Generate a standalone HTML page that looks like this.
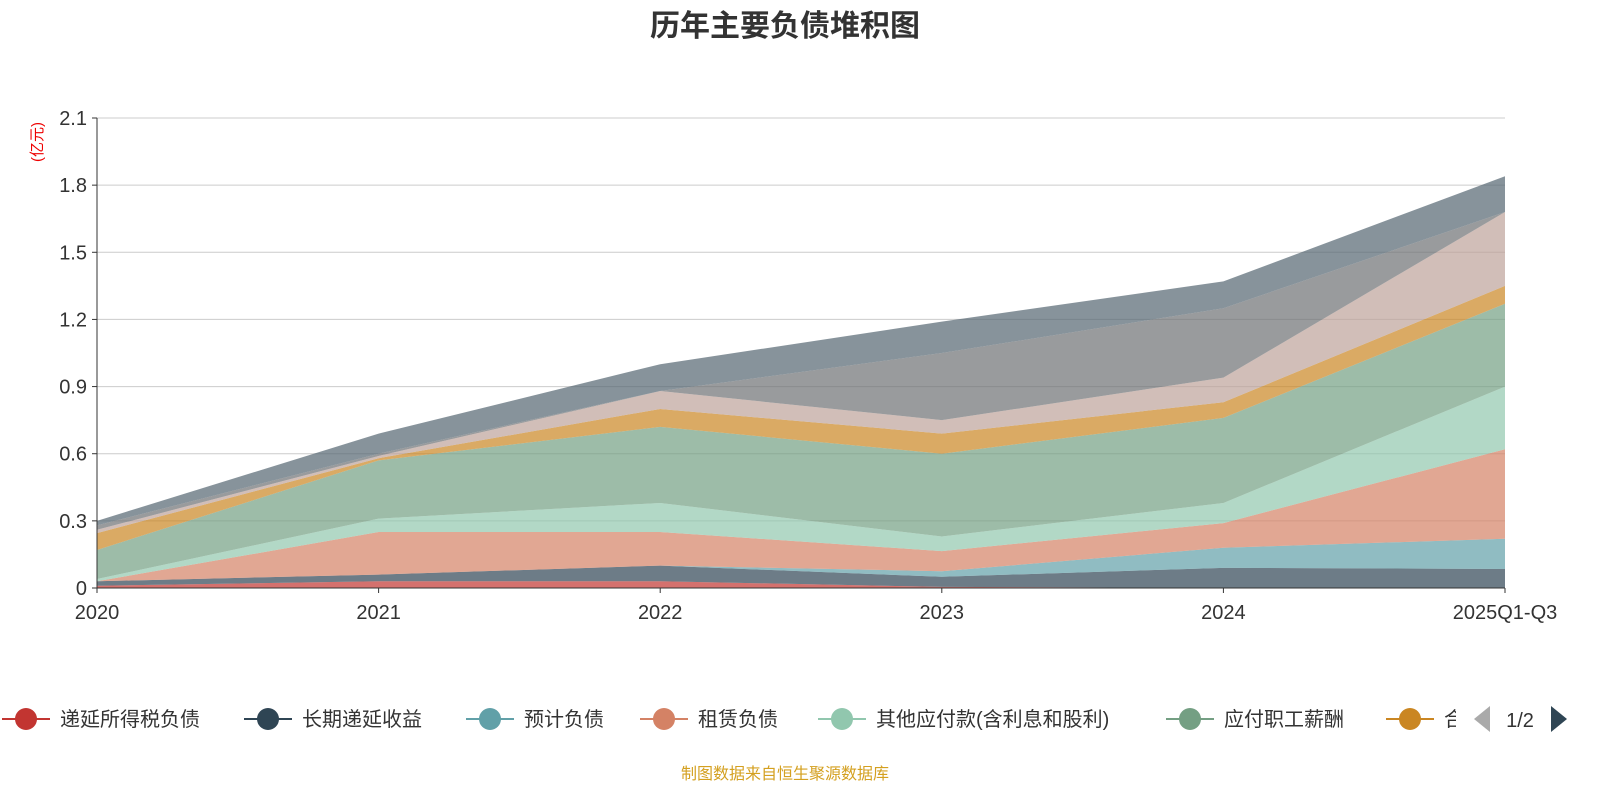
<!DOCTYPE html>
<html><head><meta charset="utf-8"><style>
body{margin:0;background:#fff;width:1600px;height:800px;overflow:hidden;font-family:"Liberation Sans","Noto Sans CJK SC",sans-serif}
</style></head><body>
<svg id="c" width="1600" height="800" xmlns="http://www.w3.org/2000/svg">
<text x="785" y="36" text-anchor="middle" font-size="30" font-weight="bold" fill="#333" font-family="Liberation Sans,Noto Sans CJK SC,sans-serif">历年主要负债堆积图</text>
<text transform="translate(42,142) rotate(-90)" text-anchor="middle" font-size="15" fill="#e00" font-family="Liberation Sans,Noto Sans CJK SC,sans-serif">(亿元)</text>
<g id="grid"></g><g id="areas"></g><g id="axes"></g><g id="legend"></g>
<text x="785" y="779" text-anchor="middle" font-size="16" fill="#d4a020" font-family="Liberation Sans,Noto Sans CJK SC,sans-serif">制图数据来自恒生聚源数据库</text>
</svg>
<script>
const categories=["2020","2021","2022","2023","2024","2025Q1-Q3"];
const yTicks=[0,0.3,0.6,0.9,1.2,1.5,1.8,2.1];
const seriesNames=["递延所得税负债","长期递延收益","预计负债","租赁负债","其他应付款(含利息和股利)","应付职工薪酬","合同负债","应交税费","应付账款","应付票据"];
const s1=[0.01,0.03,0.03,0.005,0,0];
const s2=[0.02,0.03,0.07,0.045,0.09,0.085];
const s3=[0,0,0,0.025,0.09,0.135];
const s4=[0,0.19,0.15,0.09,0.11,0.40];
const s5=[0.01,0.06,0.13,0.065,0.09,0.28];
const s6=[0.13,0.26,0.34,0.37,0.38,0.37];
const s7=[0.075,0.01,0.08,0.09,0.07,0.08];
const s8=[0.015,0.01,0.08,0.06,0.11,0.33];
const s9=[0.02,0.01,0,0.30,0.31,0];
const s10=[0.02,0.09,0.12,0.14,0.12,0.16];
const series=[s1,s2,s3,s4,s5,s6,s7,s8,s9,s10];
const colors=["#c23531","#2f4554","#61a0a8","#d48265","#91c7ae","#749f83","#ca8622","#bda29a","#6e7074","#546570"];
const NS="http://www.w3.org/2000/svg";
const X0=97,X1=1505,Y0=588,Y1=118,YMAX=2.1;
const xs=i=>X0+(X1-X0)*i/(categories.length-1);
const ys=v=>Y0-(Y0-Y1)*v/YMAX;
function mk(t,a,p){const e=document.createElementNS(NS,t);for(const k in a)e.setAttribute(k,a[k]);p.appendChild(e);return e;}
const grid=document.getElementById('grid'),areas=document.getElementById('areas'),axes=document.getElementById('axes'),leg=document.getElementById('legend');
yTicks.forEach(v=>{
 if(v>0){const l=mk('line',{x1:X0,x2:X1,y1:ys(v),y2:ys(v),stroke:'#ccc'},grid);
 
 }
 const t=mk('text',{x:X0-10,y:ys(v)+7,'text-anchor':'end','font-size':20,fill:'#333'},axes);t.textContent=v===0?'0':v.toFixed(1);
 
 
 mk('line',{x1:X0-5,x2:X0,y1:ys(v),y2:ys(v),stroke:'#333'},axes);
});
let base=categories.map(()=>0);
series.forEach((s,k)=>{
 const top=base.map((b,i)=>b+s[i]);
 let d='M'+top.map((v,i)=>xs(i)+','+ys(v)).join(' L');
 for(let i=categories.length-1;i>=0;i--)d+=' L'+xs(i)+','+ys(base[i]);
 const p=mk('path',{d:d+'Z',fill:colors[k],'fill-opacity':0.7,stroke:'none'},areas);
 
 
 base=top;
});
mk('line',{x1:X0,x2:X0,y1:Y1,y2:Y0,stroke:'#333'},axes);
mk('line',{x1:X0,x2:X1,y1:Y0,y2:Y0,stroke:'#333'},axes);
categories.forEach((c,i)=>{
 mk('line',{x1:xs(i),x2:xs(i),y1:Y0,y2:Y0+5,stroke:'#333'},axes);
 const t=mk('text',{x:xs(i),y:Y0+31,'text-anchor':'middle','font-size':20,fill:'#333'},axes);t.textContent=c;
 
 
});
const lx=[26,268,490,664,842,1190,1410];
lx.forEach((cx,k)=>{
 const g=mk('g',{},leg);
 
 
 mk('line',{x1:cx-24,x2:cx+24,y1:719,y2:719,stroke:colors[k],'stroke-width':2},g);
 mk('circle',{cx:cx,cy:719,r:11,fill:colors[k]},g);
 const t=mk('text',{x:cx+34,y:726,'font-size':20,fill:'#333'},g);t.textContent=seriesNames[k];
 if(k===6){const cp=mk('clipPath',{id:'cl'},leg);mk('rect',{x:0,y:690,width:1456,height:50},cp);t.setAttribute('clip-path','url(#cl)');}
});
const pl=mk('path',{d:'M1490,706 L1490,732 L1474,719Z',fill:'#aaa'},leg);


const pt=mk('text',{x:1520,y:727,'text-anchor':'middle','font-size':20,fill:'#333'},leg);pt.textContent='1/2';


const pr=mk('path',{d:'M1551,706 L1551,732 L1567,719Z',fill:'#2f4554'},leg);


</script>
</body></html>
